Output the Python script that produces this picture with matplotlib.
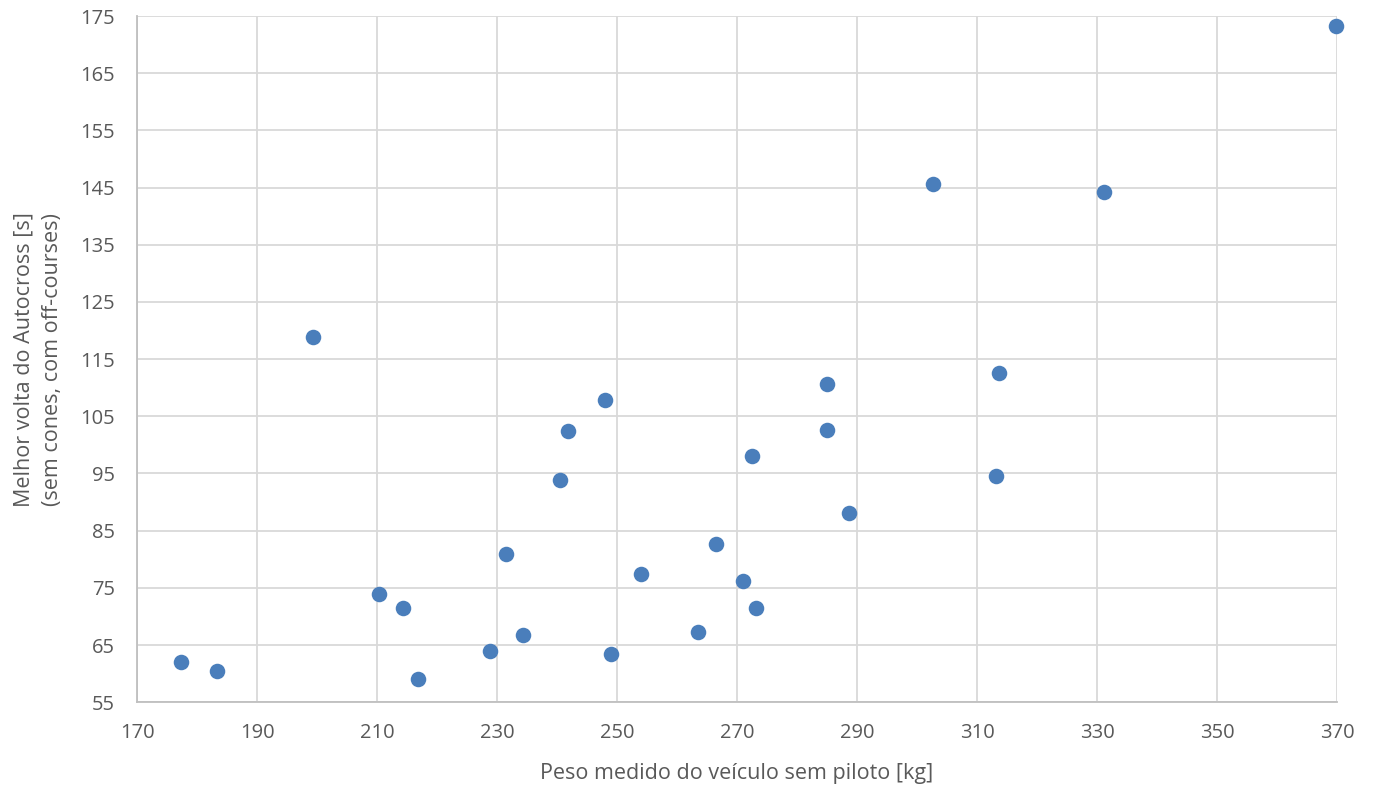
import matplotlib
matplotlib.use("Agg")
import matplotlib.pyplot as plt

# peso medido (kg) e melhor volta autocross (s)
peso = [177.3, 183.3, 199.3, 210.3, 214.3, 216.8, 228.8, 231.5, 234.3, 240.5,
        241.8, 248.0, 249.0, 254.0, 263.5, 266.5, 271.0, 272.5, 273.2, 285.0,
        285.0, 288.7, 302.7, 313.2, 313.7, 331.2, 369.8]
volta = [62.0, 60.4, 118.9, 73.9, 71.4, 59.0, 63.9, 80.9, 66.7, 93.8,
         102.4, 107.8, 63.5, 77.5, 67.3, 82.7, 76.2, 98.0, 71.4, 110.6,
         102.6, 88.1, 145.6, 94.6, 112.5, 144.2, 173.3]

xticks = list(range(170, 371, 20))
yticks = list(range(55, 176, 10))

plt.rcParams['font.family'] = ['Open Sans', 'DejaVu Sans']

fig = plt.figure(figsize=(13.77, 7.89), dpi=100)
ax = fig.add_axes([0.0995, 0.110, 0.8715, 0.8697])

ax.scatter(peso, volta, s=125, color='#4a7ebb', zorder=3, linewidths=0, clip_on=False)

ax.set_xlim(170, 370)
ax.set_ylim(55, 175)
ax.set_xticks(xticks)
ax.set_yticks(yticks)
ax.grid(True, color='#d9d9d9', linewidth=1.3)
ax.set_axisbelow(True)
for s in ['top', 'right']:
    ax.spines[s].set_visible(False)
ax.spines['bottom'].set_color('#bfbfbf')
ax.spines['left'].set_color('#bfbfbf')
ax.spines['bottom'].set_linewidth(1.3)
ax.spines['left'].set_linewidth(1.3)
ax.tick_params(length=0, labelsize=14.5, colors='#595959')
ax.tick_params(axis='x', pad=15)
ax.tick_params(axis='y', pad=16)

ax.set_xlabel('Peso medido do veículo sem piloto [kg]', fontsize=15.5, color='#595959', va='center')
ax.set_ylabel('Melhor volta do Autocross [s]\n(sem cones, com off-courses)', fontsize=15.5,
              color='#595959', va='center', linespacing=1.5)
ax.xaxis.set_label_coords(0.5, -0.1035)
ax.yaxis.set_label_coords(-0.0825, 0.5)

fig.savefig('out.png', dpi=100)
